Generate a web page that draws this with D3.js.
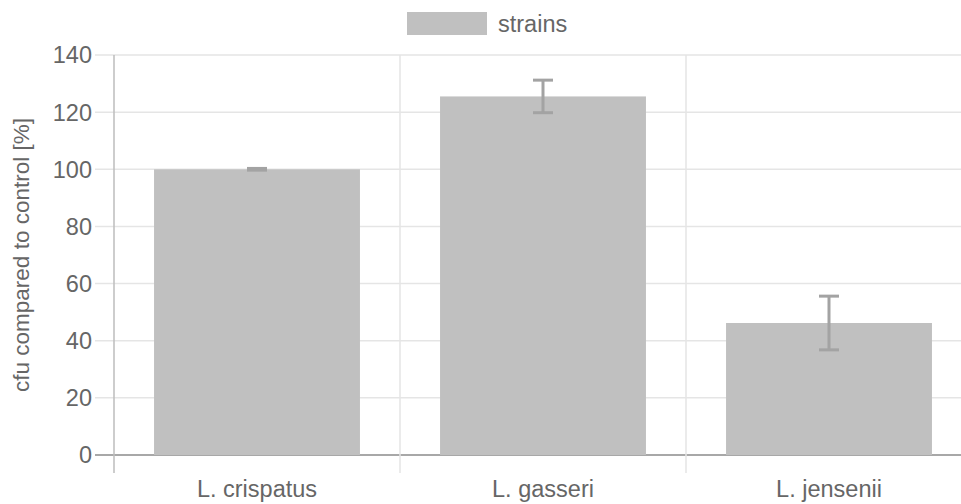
<!DOCTYPE html>
<html lang="en">
<head>
    <script src="https://d3js.org/d3.v7.min.js"></script>
    <style>
        body { margin: 0; background: #fff; }
        text { font-family: "Liberation Sans", Arial, sans-serif; fill: #666; }
    </style>
</head>
<body>
<script>
    var categories = ["L. crispatus", "L. gasseri", "L. jensenii"];
    var values = [100, 125.5, 46.2];
    var errors = [0.3, 5.7, 9.4];
    var yTicks = [0, 20, 40, 60, 80, 100, 120, 140];
    var seriesName = "strains";

    var width = 961, height = 504;
    var plotLeft = 114, plotTop = 55, plotBottom = 455, plotRight = 972;

    var svg = d3.select("body")
                  .append("svg")
                  .attr("width", width)
                  .attr("height", height);

    var x = d3.scaleBand()
              .domain(categories)
              .range([plotLeft, plotRight]);

    var y = d3.scaleLinear()
              .domain([0, 140])
              .range([plotBottom, plotTop]);

    var barW = x.bandwidth() * 0.72;

    // horizontal grid lines + tick marks
    svg.selectAll("line.hgrid")
       .data(yTicks)
       .enter()
       .append("line")
       .attr("x1", plotLeft - 19)
       .attr("x2", width)
       .attr("y1", function (d) { return y(d); })
       .attr("y2", function (d) { return y(d); })
       .attr("stroke", function (d) { return d === 0 ? "#a8a8a8" : "#e5e5e5"; })
       .attr("stroke-width", function (d) { return d === 0 ? 2 : 1.5; });

    // vertical grid lines at category boundaries
    var bounds = categories.map(function (c) { return x(c); });
    svg.selectAll("line.vgrid")
       .data(bounds)
       .enter()
       .append("line")
       .attr("x1", function (d) { return d; })
       .attr("x2", function (d) { return d; })
       .attr("y1", plotTop)
       .attr("y2", plotBottom + 18)
       .attr("stroke", function (d, i) { return i === 0 ? "#bdbdbd" : "#e5e5e5"; })
       .attr("stroke-width", 1.5);

    // y tick labels
    svg.selectAll("text.ytick")
       .data(yTicks)
       .enter()
       .append("text")
       .attr("x", plotLeft - 22)
       .attr("y", function (d) { return y(d); })
       .attr("dy", "0.36em")
       .attr("text-anchor", "end")
       .style("font-size", "23.5px")
       .text(function (d) { return d; });

    // y axis title
    svg.append("text")
       .attr("transform", "translate(29," + ((plotTop + plotBottom) / 2) + ") rotate(-90)")
       .attr("text-anchor", "middle")
       .style("font-size", "22.5px")
       .text("cfu compared to control [%]");

    // bars
    svg.selectAll("rect.bar")
       .data(values)
       .enter()
       .append("rect")
       .attr("x", function (d, i) { return x(categories[i]) + (x.bandwidth() - barW) / 2; })
       .attr("y", function (d) { return y(d); })
       .attr("width", barW)
       .attr("height", function (d) { return plotBottom - y(d); })
       .attr("fill", "#c0c0c0");

    // error bars
    var eb = svg.selectAll("g.err")
       .data(values)
       .enter()
       .append("g")
       .attr("transform", function (d, i) {
           return "translate(" + (x(categories[i]) + x.bandwidth() / 2) + ",0)";
       });

    eb.append("line")
      .attr("y1", function (d, i) { return y(d + errors[i]); })
      .attr("y2", function (d, i) { return y(d - errors[i]); })
      .attr("stroke", "#a3a3a3")
      .attr("stroke-width", 3);

    eb.append("line")
      .attr("x1", -10).attr("x2", 10)
      .attr("y1", function (d, i) { return y(d + errors[i]); })
      .attr("y2", function (d, i) { return y(d + errors[i]); })
      .attr("stroke", "#a3a3a3")
      .attr("stroke-width", 3);

    eb.append("line")
      .attr("x1", -10).attr("x2", 10)
      .attr("y1", function (d, i) { return y(d - errors[i]); })
      .attr("y2", function (d, i) { return y(d - errors[i]); })
      .attr("stroke", "#a3a3a3")
      .attr("stroke-width", 3);

    // x labels
    svg.selectAll("text.xlab")
       .data(categories)
       .enter()
       .append("text")
       .attr("x", function (d) { return x(d) + x.bandwidth() / 2; })
       .attr("y", 497)
       .attr("text-anchor", "middle")
       .style("font-size", "23.5px")
       .text(function (d) { return d; });

    // legend
    svg.append("rect")
       .attr("x", 407)
       .attr("y", 12)
       .attr("width", 80)
       .attr("height", 23)
       .attr("fill", "#c0c0c0");

    svg.append("text")
       .attr("x", 498)
       .attr("y", 24)
       .attr("dy", "0.36em")
       .style("font-size", "23.5px")
       .text(seriesName);
</script>
</body>
</html>
